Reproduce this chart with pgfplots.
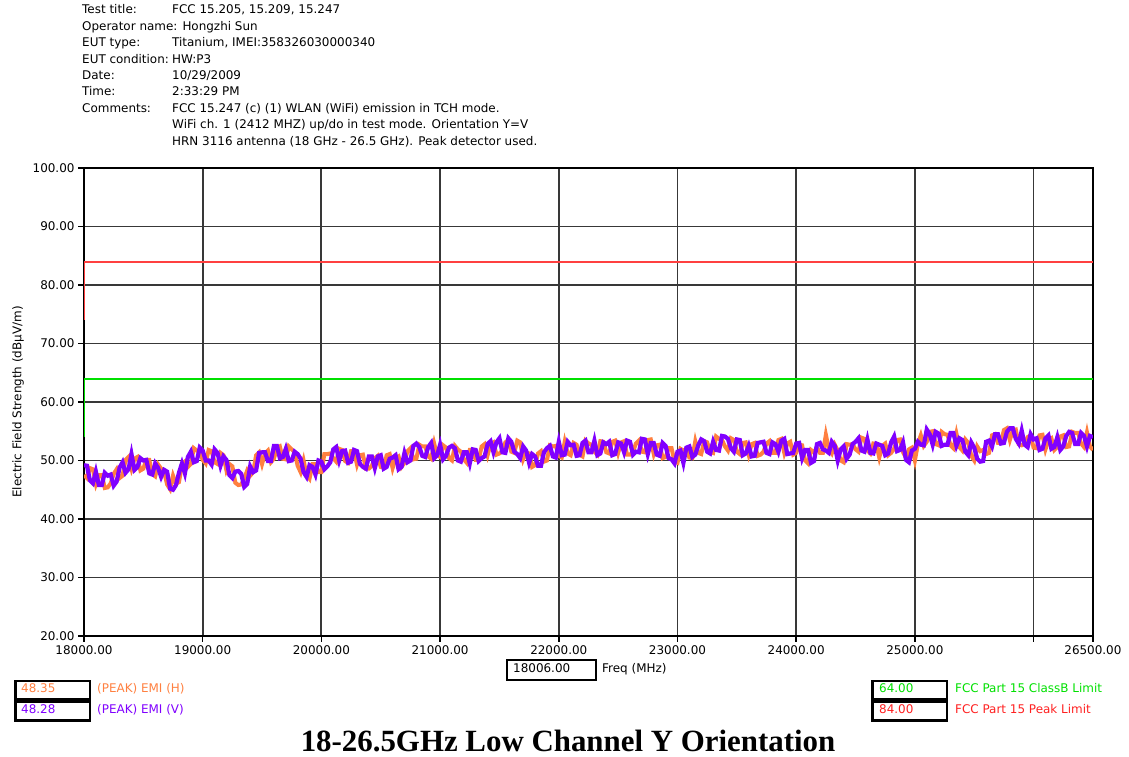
\documentclass[border=0pt]{standalone}
\usepackage{pgfplots}
\pgfplotsset{compat=1.18}
\usepackage{pgfplotstable}
\usepackage{fontspec}
\setmainfont{DejaVu Sans}
\newfontfamily\titlefont{Liberation Serif}

\definecolor{emiH}{HTML}{FF8040}
\definecolor{emiV}{HTML}{8000FF}
\definecolor{limG}{HTML}{00E000}
\definecolor{limR}{HTML}{FF2020}
\definecolor{limRline}{HTML}{FF4040}
\definecolor{gridc}{HTML}{383838}

% freq (MHz), peak EMI H, peak EMI V (dBuV/m)
\pgfplotstableread{
f H V
18000 47.5 49.2
18025 47.0 49.1
18050 48.7 46.6
18075 48.5 46.1
18100 46.0 48.1
18125 47.5 45.8
18150 47.5 45.8
18175 45.3 47.9
18200 45.4 47.4
18225 46.1 47.6
18250 47.7 45.7
18275 48.5 46.4
18300 47.0 48.8
18325 47.4 49.7
18350 50.1 47.9
18375 50.6 48.5
18400 48.6 51.1
18425 50.3 48.4
18450 50.6 48.9
18475 48.3 50.4
18500 48.6 50.0
18525 50.1 50.1
18550 50.1 47.8
18575 47.7 47.6
18600 47.3 49.5
18625 49.3 48.7
18650 48.6 47.2
18675 48.1 48.4
18700 45.9 48.1
18725 45.1 45.2
18750 47.4 45.0
18775 46.0 45.8
18800 46.3 47.9
18825 49.3 49.5
18850 49.8 47.8
18875 48.9 50.6
18900 49.4 51.5
18925 52.1 49.7
18950 51.7 49.9
18975 51.4 52.2
19000 50.1 51.7
19025 49.5 50.0
19050 51.8 50.0
19075 51.6 49.3
19100 49.7 51.9
19125 49.4 51.3
19150 51.3 49.1
19175 50.9 50.7
19200 48.3 50.1
19225 49.4 47.5
19250 49.0 47.0
19275 46.2 48.1
19300 45.8 48.2
19325 45.9 47.7
19350 46.9 45.5
19375 48.3 46.0
19400 47.4 49.0
19425 48.0 48.0
19450 50.9 48.3
19475 51.4 51.3
19500 49.4 51.4
19525 51.2 51.4
19550 51.7 49.9
19575 49.7 49.9
19600 50.3 52.5
19625 52.1 52.5
19650 52.4 50.4
19675 50.3 50.6
19700 50.2 52.0
19725 52.4 49.9
19750 51.9 50.0
19775 51.4 51.5
19800 49.1 51.1
19825 48.0 50.3
19850 50.0 48.0
19875 47.6 47.2
19900 46.9 49.2
19925 49.4 48.9
19950 49.4 47.6
19975 48.0 50.0
20000 48.0 49.8
20025 51.1 48.5
20050 51.1 49.0
20075 51.2 49.7
20100 50.4 51.9
20125 49.8 52.3
20150 52.0 50.0
20175 51.8 51.6
20200 49.9 51.7
20225 49.6 49.6
20250 51.6 49.8
20275 51.6 51.8
20300 49.3 51.6
20325 50.9 49.4
20350 51.0 48.9
20375 48.6 48.6
20400 48.6 50.7
20425 49.1 50.7
20450 50.4 48.7
20475 50.8 50.7
20500 48.9 50.9
20525 48.8 48.6
20550 50.9 48.9
20575 51.1 50.3
20600 48.7 50.5
20625 50.4 50.9
20650 50.7 48.5
20675 48.9 48.9
20700 49.6 51.3
20725 51.6 49.7
20750 52.1 50.0
20775 50.2 52.5
20800 50.3 52.9
20825 52.7 52.3
20850 52.4 50.8
20875 52.4 50.6
20900 50.7 52.3
20925 50.3 53.0
20950 52.9 50.4
20975 50.9 50.9
21000 50.6 52.7
21025 52.6 50.2
21050 52.2 50.8
21075 50.4 52.2
21100 50.0 52.5
21125 52.5 52.1
21150 51.9 50.0
21175 51.5 49.8
21200 50.2 51.4
21225 49.6 51.4
21250 51.8 49.5
21275 51.8 51.9
21300 50.1 51.8
21325 50.1 49.9
21350 52.4 50.4
21375 52.8 50.7
21400 50.9 52.8
21425 52.8 53.3
21450 53.1 51.4
21475 51.0 53.1
21500 51.2 53.8
21525 51.7 51.4
21550 53.1 51.3
21575 53.5 53.8
21600 51.5 53.2
21625 51.3 51.5
21650 53.4 51.1
21675 53.1 50.4
21700 50.2 52.4
21725 51.4 51.7
21750 51.2 49.6
21775 48.9 51.1
21800 49.2 50.7
21825 51.2 49.1
21850 51.6 49.1
21875 49.8 51.4
21900 50.0 52.1
21925 52.6 52.5
21950 52.4 50.7
21975 52.5 50.5
22000 50.8 53.2
22025 50.5 50.9
22050 53.2 51.0
22075 51.2 53.2
22100 50.9 52.6
22125 53.0 52.7
22150 52.7 50.8
22175 51.0 50.9
22200 50.7 53.0
22225 53.4 53.4
22250 52.9 51.4
22275 52.7 51.4
22300 51.5 53.4
22325 51.0 50.9
22350 53.3 51.2
22375 53.2 53.1
22400 51.4 52.8
22425 51.2 53.2
22450 53.2 50.9
22475 53.4 51.1
22500 51.3 53.1
22525 53.1 52.9
22550 53.3 51.4
22575 51.0 53.4
22600 51.0 53.2
22625 51.5 51.0
22650 52.9 51.5
22675 53.4 51.4
22700 51.5 53.7
22725 51.4 53.6
22750 53.5 51.1
22775 53.6 53.0
22800 51.1 53.0
22825 52.6 51.0
22850 52.7 50.8
22875 50.4 53.0
22900 50.6 52.5
22925 52.1 50.4
22950 52.1 50.2
22975 49.8 49.5
23000 49.6 51.5
23025 52.0 51.7
23050 51.7 49.6
23075 52.0 52.2
23100 50.5 52.4
23125 50.4 50.6
23150 53.3 51.0
23175 51.3 52.6
23200 51.1 53.6
23225 53.3 53.3
23250 53.1 51.5
23275 51.5 51.2
23300 51.3 53.2
23325 54.1 51.8
23350 53.7 51.7
23375 53.5 54.2
23400 52.4 54.1
23425 51.7 53.7
23450 53.8 52.1
23475 53.5 51.5
23500 51.5 53.6
23525 51.1 53.5
23550 53.0 50.9
23575 53.1 51.2
23600 51.0 52.5
23625 52.8 50.7
23650 53.0 50.8
23675 50.8 53.0
23700 51.0 53.1
23725 51.5 53.2
23750 52.9 51.3
23775 53.3 51.1
23800 51.3 53.1
23825 51.3 52.8
23850 53.5 51.5
23875 53.7 53.4
23900 51.3 53.7
23925 52.9 51.1
23950 53.2 51.2
23975 51.0 51.3
24000 51.3 52.9
24025 52.7 53.0
24050 52.6 50.4
24075 50.0 51.8
24100 49.5 51.8
24125 51.8 49.6
24150 51.4 49.9
24175 52.2 52.8
24200 51.3 53.0
24225 51.3 51.9
24250 54.4 51.7
24275 51.9 51.3
24300 51.2 53.2
24325 52.7 52.5
24350 51.7 50.0
24375 50.0 51.9
24400 49.7 52.4
24425 52.8 50.3
24450 52.7 51.0
24475 52.8 52.8
24500 51.9 53.2
24525 51.5 53.8
24550 53.9 51.7
24575 53.7 51.5
24600 51.7 53.6
24625 51.2 51.3
24650 52.9 51.2
24675 52.8 52.9
24700 50.5 52.7
24725 52.5 52.5
24750 52.9 50.9
24775 50.9 51.2
24800 51.3 53.1
24825 52.0 54.1
24850 53.5 51.6
24875 53.6 51.8
24900 51.4 53.1
24925 50.5 50.1
24950 51.9 49.7
24975 52.2 51.7
25000 50.0 52.0
25025 52.8 53.2
25050 54.3 52.7
25075 52.5 52.6
25100 53.2 55.3
25125 54.9 54.5
25150 55.0 52.7
25175 52.8 54.9
25200 52.6 54.6
25225 54.9 52.5
25250 54.5 52.7
25275 54.4 52.7
25300 52.6 54.7
25325 52.1 54.7
25350 54.6 52.5
25375 52.3 53.8
25400 51.7 53.5
25425 53.6 51.5
25450 53.0 50.9
25475 50.8 53.1
25500 50.0 52.2
25525 52.4 50.3
25550 51.6 49.8
25575 51.8 49.9
25600 51.1 53.2
25625 51.3 53.4
25650 54.3 52.4
25675 54.5 54.5
25700 53.0 54.5
25725 53.0 52.9
25750 55.2 53.0
25775 55.5 54.9
25800 53.5 55.5
25825 55.2 55.5
25850 55.3 53.7
25875 52.8 52.9
25900 52.6 55.1
25925 52.9 52.7
25950 54.0 52.3
25975 54.3 54.5
26000 52.2 53.6
26025 52.1 53.8
26050 54.3 51.8
26075 54.4 52.0
26100 51.9 53.8
26125 53.5 54.3
26150 53.8 52.0
26175 51.8 52.3
26200 52.3 54.0
26225 54.1 51.8
26250 54.3 52.4
26275 52.3 54.2
26300 52.4 54.9
26325 54.9 54.7
26350 54.7 52.8
26375 54.7 52.8
26400 52.9 54.7
26425 52.3 54.2
26450 54.8 52.4
26475 52.4 54.2
26500 51.8 54.0
}\emidata

\begin{document}
\begin{tikzpicture}[x=1bp, y=1bp, font=\fontsize{12}{14}\selectfont]
\useasboundingbox (0,0) rectangle (1129,757);

% header block
\foreach \lab/\val/\yy in {
  {Test title:}/{FCC 15.205, 15.209, 15.247}/746,
  {EUT type:}/{Titanium, IMEI:358326030000340}/713,
  {EUT condition:}/{HW:P3}/696,
  {Date:}/{10/29/2009}/680,
  {Time:}/{2:33:29 PM}/664,
  {Comments:}/{FCC 15.247 (c) (1) WLAN (WiFi) emission in TCH mode.}/647}
{
  \node[anchor=mid west, inner sep=0pt] at (82,\yy) {\lab};
  \node[anchor=mid west, inner sep=0pt] at (172,\yy) {\val};
}
\node[anchor=mid west, inner sep=0pt] at (82,729) {Operator name: Hongzhi Sun};
\node[anchor=mid west, inner sep=0pt] at (172,631) {WiFi ch. 1 (2412 MHZ) up/do in test mode. Orientation Y=V};
\node[anchor=mid west, inner sep=0pt] at (172,614) {HRN 3116 antenna (18 GHz - 26.5 GHz). Peak detector used.};

\begin{axis}[
  at={(84bp,121bp)}, anchor=south west,
  scale only axis, width=1009bp, height=468bp,
  xmin=18000, xmax=26500, ymin=20, ymax=100,
  xtick={18000,19000,20000,21000,22000,23000,24000,25000,26000,26500},
  xticklabels={18000.00,19000.00,20000.00,21000.00,22000.00,23000.00,24000.00,25000.00,,26500.00},
  ytick={20,30,...,100},
  yticklabel style={/pgf/number format/.cd, fixed, fixed zerofill, precision=2, 1000 sep={}, assume math mode=true},
  scaled ticks=false,
  tick align=outside,
  xtick pos=bottom, ytick pos=left,
  major tick length=6bp,
  tick style={black, line width=1.5bp},
  grid=major,
  major grid style={gridc, line width=1.8bp},
  axis line style={black, line width=1.8bp},
  tick label style={font=\fontsize{12}{14}\selectfont},
  clip=true,
]
\addplot[draw=limG, line width=2bp] coordinates {(18000,54) (18000,64) (26500,64)};
\addplot[draw=limRline, line width=2bp] coordinates {(18000,74) (18000,84) (26500,84)};
\addplot[draw=emiH, line width=4bp] table[x=f, y=H] {\emidata};
\addplot[draw=emiV, line width=4.2bp] table[x=f, y=V] {\emidata};
\end{axis}

\node[rotate=90, anchor=center] at (18,355) {Electric Field Strength (dBµV/m)};

% frequency readout box
\draw[black, line width=1.6bp, fill=white] (507,77) rectangle (596,97);
\node[anchor=mid west, inner sep=0pt] at (513,87) {18006.00};
\node[anchor=mid west, inner sep=0pt] at (602,87) {Freq (MHz)};

% left legend boxes
\fill[black] (14,35) rectangle (91,77);
\fill[white] (16.5,59) rectangle (88.5,74.5);
\fill[white] (16.5,37.5) rectangle (88.5,54);
\node[anchor=mid west, inner sep=0pt, text=emiH] at (21,67) {48.35};
\node[anchor=mid west, inner sep=0pt, text=emiV] at (21,46) {48.28};
\node[anchor=mid west, inner sep=0pt, text=emiH] at (97,67) {(PEAK) EMI (H)};
\node[anchor=mid west, inner sep=0pt, text=emiV] at (97,46) {(PEAK) EMI (V)};

% right legend boxes
\fill[black] (871,35) rectangle (948,77);
\fill[white] (873.5,59) rectangle (945.5,74.5);
\fill[white] (873.5,37.5) rectangle (945.5,54);
\node[anchor=mid west, inner sep=0pt, text=limG] at (879,67) {64.00};
\node[anchor=mid west, inner sep=0pt, text=limR] at (879,46) {84.00};
\node[anchor=mid west, inner sep=0pt, text=limG] at (955,67) {FCC Part 15 ClassB Limit};
\node[anchor=mid west, inner sep=0pt, text=limR] at (955,46) {FCC Part 15 Peak Limit};

% caption
\node[anchor=center, inner sep=0pt] at (568,16) {\titlefont\bfseries\fontsize{31}{36}\selectfont 18-26.5GHz Low Channel Y Orientation};
\end{tikzpicture}
\end{document}
